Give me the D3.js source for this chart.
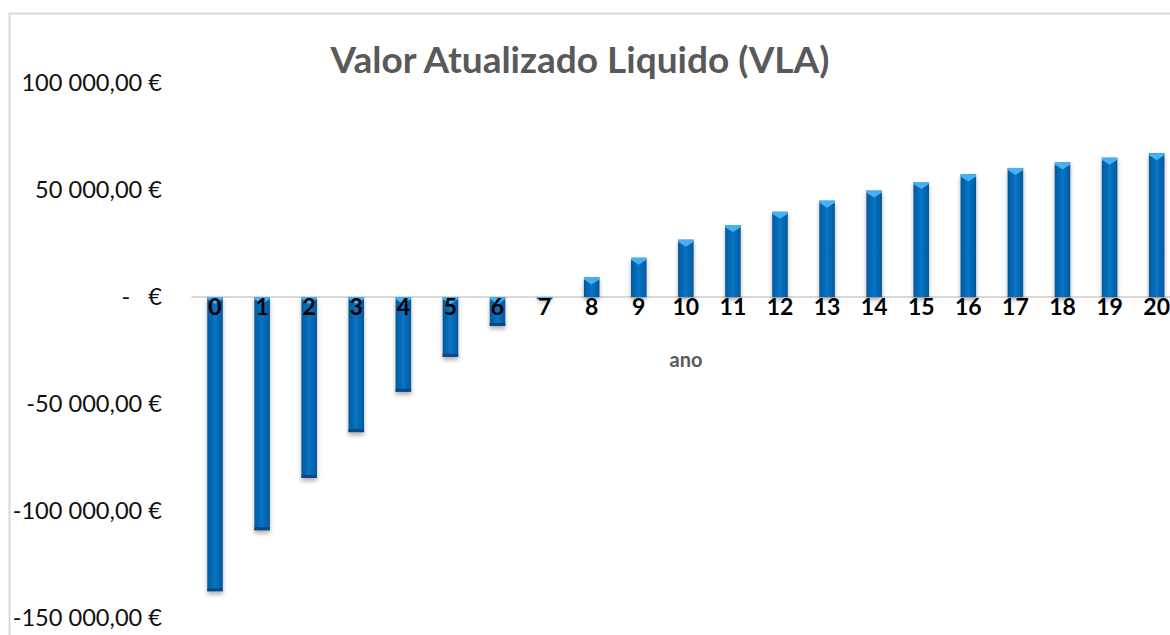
<!DOCTYPE html>
<html>
<head>
<meta charset="utf-8">
<script src="https://cdn.jsdelivr.net/npm/d3@7"></script>
<style>
  html, body { margin: 0; padding: 0; background: #fff; }
  svg { display: block; font-family: Lato, "Open Sans", sans-serif; }
  .y.axis text { white-space: pre; }
</style>
</head>
<body>
<svg id="chart" width="1170" height="635"></svg>
<script>
// Chart data
var years = d3.range(0, 21);
var vla = [-137500, -109000, -84550, -63150, -44300, -28000, -13550, -1100,
           9170, 18340, 26790, 33620, 39830, 45030, 49710, 53740, 57300,
           60310, 62900, 65100, 67230];
var yTicks = [-150000, -100000, -50000, 0, 50000, 100000];
var titleText = 'Valor Atualizado Liquido (VLA)';
var xLabelText = 'ano';

var svg = d3.select('#chart');

// Outer frame
svg.append('rect')
   .attr('x', 9.5)
   .attr('y', 13.5)
   .attr('width', 1200)
   .attr('height', 700)
   .attr('fill', 'none')
   .attr('stroke', '#d9d9d9')
   .attr('stroke-width', 2);

// Scales
var xScale = d3.scaleBand()
    .domain(years)
    .range([191.5, 1180.2])
    .paddingInner(0.67)
    .paddingOuter(0.335);

var yScale = d3.scaleLinear()
    .domain([-150000, 100000])
    .range([618, 83]);

// Euro formatting, Portuguese style
var locale = d3.formatLocale({
    decimal: ',', thousands: ' ', grouping: [3], currency: ['', ' €'], minus: '-'
});
var fmt = locale.format(',.2f');
function format_Euro(d) {
    if (d === 0) return '-   €';
    return fmt(d) + ' €';
}

// Defs: gradient and shadow for the bars
var defs = svg.append('defs');
var grad = defs.append('linearGradient')
    .attr('id', 'barGrad')
    .attr('x1', '0%').attr('x2', '100%')
    .attr('y1', '0%').attr('y2', '0%');
[['0%', '#0b4f8c'], ['14%', '#0364ad'], ['50%', '#0872c4'], ['86%', '#0364ad'], ['100%', '#0b4f8c']]
    .forEach(function(s) {
        grad.append('stop').attr('offset', s[0]).attr('stop-color', s[1]);
    });

// Shadow region in user space so that very short bars are not clipped
var shadow = defs.append('filter')
    .attr('id', 'barShadow')
    .attr('filterUnits', 'userSpaceOnUse')
    .attr('x', 0).attr('y', 0)
    .attr('width', 1170).attr('height', 635);
shadow.append('feDropShadow')
    .attr('dx', 0).attr('dy', 3)
    .attr('stdDeviation', 2)
    .attr('flood-color', '#000')
    .attr('flood-opacity', 0.3);

// Title
svg.append('text')
   .attr('x', 580)
   .attr('y', 73)
   .attr('text-anchor', 'middle')
   .attr('fill', '#595959')
   .style('font-size', '37px')
   .style('font-weight', 'bold')
   .text(titleText);

// Y axis (labels only)
var yAxis = d3.axisLeft(yScale)
    .tickValues(yTicks)
    .tickSize(0)
    .tickPadding(0)
    .tickFormat(format_Euro);

svg.append('g')
   .attr('class', 'y axis')
   .attr('transform', 'translate(162,0)')
   .call(yAxis)
   .call(function(g) {
       g.select('.domain').remove();
       g.attr('font-family', null).attr('font-size', null);
   })
   .selectAll('text')
   .attr('fill', '#111')
   .style('font-size', '23.6px');

// Zero line
svg.append('line')
   .attr('x1', xScale.range()[0])
   .attr('x2', xScale.range()[1])
   .attr('y1', yScale(0))
   .attr('y2', yScale(0))
   .attr('stroke', '#d9d9d9')
   .attr('stroke-width', 2);

// Bars
var bw = xScale.bandwidth();
var bars = svg.selectAll('.bar')
    .data(years)
    .enter()
    .append('g')
    .attr('class', 'bar')
    .attr('filter', 'url(#barShadow)');

bars.append('rect')
    .attr('x', function(d) { return xScale(d); })
    .attr('y', function(d, i) { return yScale(Math.max(0, vla[i])); })
    .attr('width', bw)
    .attr('height', function(d, i) { return Math.max(2, Math.abs(yScale(vla[i]) - yScale(0))); })
    .attr('fill', 'url(#barGrad)');

// Light bevel at the top edge of each bar
bars.append('path')
    .attr('d', function(d, i) {
        var x = xScale(d);
        var top = yScale(Math.max(0, vla[i]));
        var h = Math.max(2, Math.min(7, Math.abs(yScale(vla[i]) - yScale(0))));
        return 'M' + x + ',' + top + 'L' + (x + bw) + ',' + top +
               'L' + (x + bw) + ',' + (top + h * 0.3) +
               'L' + (x + bw / 2) + ',' + (top + h) +
               'L' + x + ',' + (top + h * 0.3) + 'Z';
    })
    .attr('fill', '#45b1f2');

// Dark bevel at the bottom of the negative bars
bars.filter(function(d, i) { return vla[i] < -5000; })
    .append('rect')
    .attr('x', function(d) { return xScale(d); })
    .attr('y', function(d, i) { return yScale(vla[i]) - 3; })
    .attr('width', bw)
    .attr('height', 3)
    .attr('fill', '#0a4a80');

// X axis labels
var xAxis = d3.axisBottom(xScale)
    .tickSize(0)
    .tickPadding(18);

svg.append('g')
   .attr('class', 'x axis')
   .attr('transform', 'translate(0,' + yScale(0) + ')')
   .call(xAxis)
   .call(function(g) {
       g.select('.domain').remove();
       g.attr('font-family', null).attr('font-size', null);
   })
   .selectAll('text')
   .attr('fill', '#000')
   .style('font-size', '23px')
   .style('font-weight', 'bold')
   .attr('dy', '0');

// X axis title
svg.append('text')
   .attr('x', 686)
   .attr('y', 367)
   .attr('text-anchor', 'middle')
   .attr('fill', '#595959')
   .style('font-size', '20px')
   .style('font-weight', 'bold')
   .text(xLabelText);
</script>
</body>
</html>
